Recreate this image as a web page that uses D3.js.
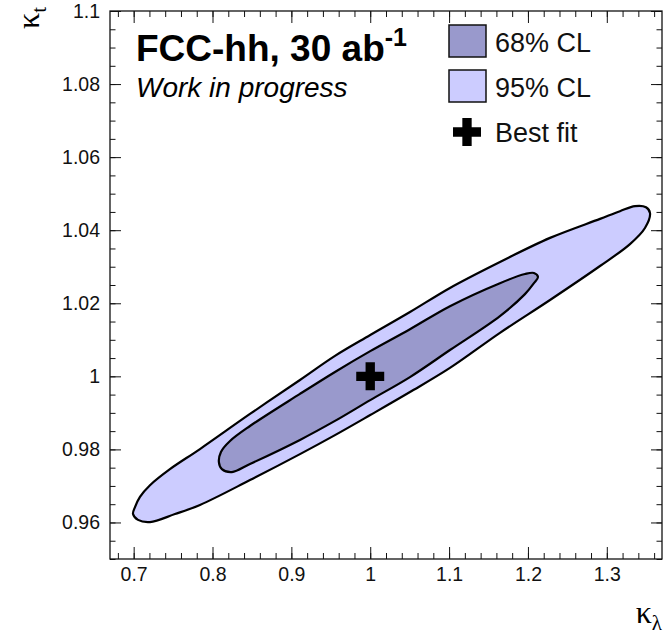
<!DOCTYPE html>
<html>
<head>
<meta charset="utf-8">
<script src="https://cdn.jsdelivr.net/npm/d3@7"></script>
<style>
  body { margin: 0; background: #fff; }
  text { font-family: "Liberation Sans", Arial, Helvetica, sans-serif; }
</style>
</head>
<body>
<div id="chart"></div>
<script>
// contour points: kappa_lambda / kappa_t
let kl_95 = [0.6992, 0.7055, 0.7207, 0.7524, 0.7841, 0.8475, 0.9109, 0.9553, 1.0000, 1.0504, 1.1011, 1.1645,
             1.2280, 1.2914, 1.3294, 1.3484, 1.3548, 1.3497, 1.3358, 1.3167, 1.2914, 1.2280, 1.1645, 1.1011,
             1.0504, 1.0000, 0.9553, 0.9109, 0.8475, 0.7841, 0.7460, 0.7207, 0.7080, 0.7017]
let kt_95 = [0.9623, 0.9607, 0.9601, 0.9623, 0.9648, 0.9716, 0.9787, 0.9839, 0.9894, 0.9957, 1.0023, 1.0119,
             1.0209, 1.0302, 1.0362, 1.0406, 1.0447, 1.0463, 1.0466, 1.0452, 1.0431, 1.0379, 1.0313, 1.0242,
             1.0176, 1.0113, 1.0056, 0.9990, 0.9897, 0.9801, 0.9746, 0.9702, 0.9670, 0.9642]

let kl_68 = [0.8081, 0.8119, 0.8246, 0.8475, 0.9109, 0.9553, 1.0000, 1.0504, 1.1011, 1.1645, 1.1962, 1.2076,
             1.2127, 1.2076, 1.1962, 1.1645, 1.1011, 1.0504, 1.0000, 0.9553, 0.9109, 0.8475, 0.8222, 0.8107]
let kt_68 = [0.9765, 0.9746, 0.9738, 0.9760, 0.9826, 0.9878, 0.9935, 0.9998, 1.0072, 1.0165, 1.0225, 1.0255,
             1.0272, 1.0283, 1.0280, 1.0255, 1.0192, 1.0129, 1.0069, 1.0012, 0.9952, 0.9864, 0.9823, 0.9793]

let best_fit = [1.0, 1.0]

let x_ticks = [0.7, 0.8, 0.9, 1, 1.1, 1.2, 1.3]
let y_ticks = [0.96, 0.98, 1, 1.02, 1.04, 1.06, 1.08, 1.1]
let legend_labels = ["68% CL", "95% CL", "Best fit"]

let width = 665, height = 638
let color_68 = "#9999cc", color_95 = "#ccccff"

let svg = d3.select("#chart")
    .append("svg")
    .attr("width", width)
    .attr("height", height)

let x = d3.scaleLinear().domain([0.67, 1.37]).range([110, 662])
let y = d3.scaleLinear().domain([0.95, 1.1]).range([559, 11])

let x_minor = d3.range(68, 137, 2).map(v => v / 100)
let y_minor = d3.range(950, 1101, 5).map(v => v / 1000)

let line = d3.line()
    .x(d => x(d[0]))
    .y(d => y(d[1]))
    .curve(d3.curveCatmullRomClosed.alpha(0.5))

// contours
svg.append("path")
    .attr("d", line(d3.zip(kl_95, kt_95)))
    .attr("fill", color_95)
    .attr("stroke", "black")
    .style("stroke-width", "2.2px")

svg.append("path")
    .attr("d", line(d3.zip(kl_68, kt_68)))
    .attr("fill", color_68)
    .attr("stroke", "black")
    .style("stroke-width", "2.2px")

let cross = d3.symbol().type(d3.symbolCross).size(435)

svg.append("path")
    .attr("d", cross())
    .attr("transform", `translate(${x(best_fit[0])}, ${y(best_fit[1])})`)
    .attr("fill", "black")

// axes: ticks on all four sides pointing inward
function drawAxis(axis, tx, ty) {
    let g = svg.append("g")
        .attr("transform", `translate(${tx}, ${ty})`)
        .call(axis)
    g.select(".domain").remove()
    g.selectAll("line").attr("stroke", "#111")
    g.selectAll("text")
        .style("font-size", "19.5px")
        .style("font-family", "'Liberation Sans', Arial, sans-serif")
        .attr("fill", "#111")
    return g
}

let fmt = d3.format("~g")

drawAxis(d3.axisBottom(x).tickValues(x_minor).tickSize(-6).tickFormat(""), 0, 559)
drawAxis(d3.axisBottom(x).tickValues(x_ticks).tickSize(-12).tickPadding(8).tickFormat(fmt), 0, 559)
drawAxis(d3.axisTop(x).tickValues(x_minor).tickSize(-6).tickFormat(""), 0, 11)
drawAxis(d3.axisTop(x).tickValues(x_ticks).tickSize(-12).tickFormat(""), 0, 11)

drawAxis(d3.axisLeft(y).tickValues(y_minor).tickSize(-5.5).tickFormat(""), 110, 0)
drawAxis(d3.axisLeft(y).tickValues(y_ticks).tickSize(-11).tickPadding(10).tickFormat(fmt), 110, 0)
drawAxis(d3.axisRight(y).tickValues(y_minor).tickSize(-5.5).tickFormat(""), 662, 0)
drawAxis(d3.axisRight(y).tickValues(y_ticks).tickSize(-11).tickFormat(""), 662, 0)

svg.append("rect")
    .attr("x", 110)
    .attr("y", 11)
    .attr("width", 552)
    .attr("height", 548)
    .attr("fill", "none")
    .attr("stroke", "#111")
    .style("stroke-width", "1.3px")

// axis titles
let xt = svg.append("text")
    .attr("x", 662)
    .attr("y", 623)
    .style("text-anchor", "end")
    .style("font-family", "'Liberation Serif', 'DejaVu Serif', serif")
    .style("font-size", "32px")
xt.append("tspan").text("κ")
xt.append("tspan").text("λ").attr("dy", 7).style("font-size", "21px")

let yt = svg.append("text")
    .attr("transform", "translate(39, 7) rotate(-90)")
    .style("text-anchor", "end")
    .style("font-family", "'Liberation Serif', 'DejaVu Serif', serif")
    .style("font-size", "32px")
yt.append("tspan").text("κ")
yt.append("tspan").text("t").attr("dy", 7).style("font-size", "21px")

// title
let title = svg.append("text")
    .attr("x", 136)
    .attr("y", 61)
    .style("font-weight", "bold")
    .style("font-size", "37px")
title.append("tspan").text("FCC-hh, 30 ab")
title.append("tspan").text("-1").attr("dy", -15).style("font-size", "25px")

svg.append("text")
    .attr("x", 136)
    .attr("y", 97)
    .style("font-style", "italic")
    .style("font-size", "28px")
    .text("Work in progress")

// legend
let legend = svg.append("g")
    .attr("transform", "translate(449, 25)")

legend.selectAll(null)
    .data([color_68, color_95])
    .enter()
    .append("rect")
    .attr("x", 0)
    .attr("y", (d, i) => i * 45)
    .attr("width", 37)
    .attr("height", 32)
    .attr("fill", d => d)
    .attr("stroke", "#111")
    .style("stroke-width", "1.5px")

legend.append("path")
    .attr("d", cross())
    .attr("transform", "translate(18, 107)")
    .attr("fill", "black")

legend.selectAll(null)
    .data(legend_labels)
    .enter()
    .append("text")
    .text(d => d)
    .attr("x", 46)
    .attr("y", (d, i) => 27 + i * 45)
    .style("font-size", "27px")
    .attr("fill", "#111")
</script>
</body>
</html>
